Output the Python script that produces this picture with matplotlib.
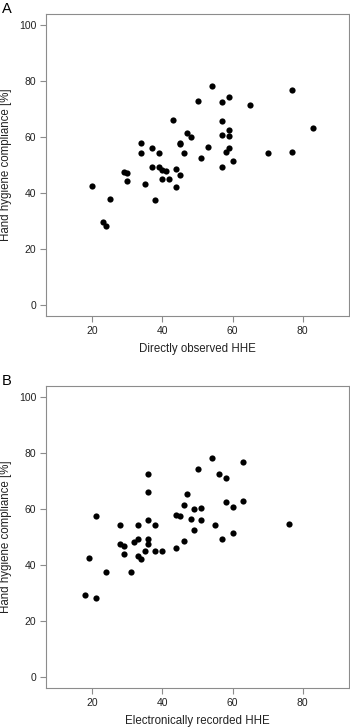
import matplotlib
matplotlib.use('Agg')
import matplotlib.pyplot as plt

plt.rcParams['font.family'] = ['Liberation Sans', 'DejaVu Sans']

# panel A: directly observed HHE vs compliance
obs_x = [54, 77, 50, 57, 59, 65, 43, 57, 83, 59, 47, 48, 57, 59, 34, 45, 45, 37, 53, 59,
         34, 39, 46, 58, 70, 77, 51, 60, 37, 39, 57, 44, 40, 41, 29, 30, 45, 20, 30, 35,
         40, 42, 44, 25, 38, 23, 24]
obs_y = [78.3, 76.9, 72.8, 72.6, 74.5, 71.3, 66.2, 65.6, 63.1, 62.7, 61.6, 60.2, 60.7, 60.5,
         57.7, 58.0, 57.4, 56.2, 56.6, 56.1, 54.4, 54.2, 54.2, 54.5, 54.3, 54.8, 52.6, 51.4,
         49.4, 49.4, 49.2, 48.7, 48.2, 47.7, 47.6, 47.0, 46.3, 42.6, 44.2, 43.2, 44.9, 45.1,
         42.3, 37.7, 37.4, 29.5, 28.2]

# panel B: electronically recorded HHE vs compliance
ele_x = [54, 63, 50, 36, 56, 58, 36, 47, 63, 58, 46, 49, 51, 60, 21, 44, 45, 48, 36, 51,
         28, 33, 38, 55, 76, 49, 60, 33, 36, 57, 46, 32, 36, 28, 29, 44, 19, 29, 33, 35,
         38, 40, 34, 24, 31, 18, 21]
ele_y = [78.3, 76.9, 74.4, 72.7, 72.6, 71.2, 66.1, 65.6, 63.0, 62.7, 61.6, 60.2, 60.5, 60.7,
         57.7, 58.0, 57.4, 56.6, 56.1, 56.1, 54.2, 54.4, 54.2, 54.4, 54.6, 52.6, 51.4, 49.4,
         49.4, 49.2, 48.8, 48.2, 47.7, 47.6, 47.0, 46.2, 42.5, 44.1, 43.2, 45.0, 45.2, 44.9,
         42.3, 37.7, 37.4, 29.5, 28.2]

fig = plt.figure(figsize=(3.5, 7.27), dpi=100)

panels = [
    ('A', obs_x, obs_y, 'Directly observed HHE', [0.1314, 0.5653, 0.866, 0.4154], 0.9817),
    ('B', ele_x, ele_y, 'Electronically recorded HHE', [0.1314, 0.0532, 0.866, 0.4158], 0.4704),
]

for letter, xs, ys, xlab, rect, ly in panels:
    ax = fig.add_axes(rect)
    ax.scatter(xs, ys, s=20, color='black', linewidths=0)
    ax.set_xlim(10 - 3.2, 90 + 3.2)
    ax.set_ylim(-4, 104)
    ax.set_xticks([20, 40, 60, 80])
    ax.set_yticks([0, 20, 40, 60, 80, 100])
    for sp in ax.spines.values():
        sp.set_color('#8c8c8c')
        sp.set_linewidth(0.8)
    ax.tick_params(length=4, width=0.8, color='#8c8c8c', labelsize=7.5,
                   labelcolor='#222222', pad=3)
    ax.set_xlabel(xlab, fontsize=8.3, color='#222222', labelpad=5)
    ax.set_ylabel('Hand hygiene compliance [%]', fontsize=8.3, color='#222222', labelpad=5)
    fig.text(0.006, ly, letter, fontsize=10.5, ha='left', va='baseline')

fig.savefig('out.png', dpi=100)
